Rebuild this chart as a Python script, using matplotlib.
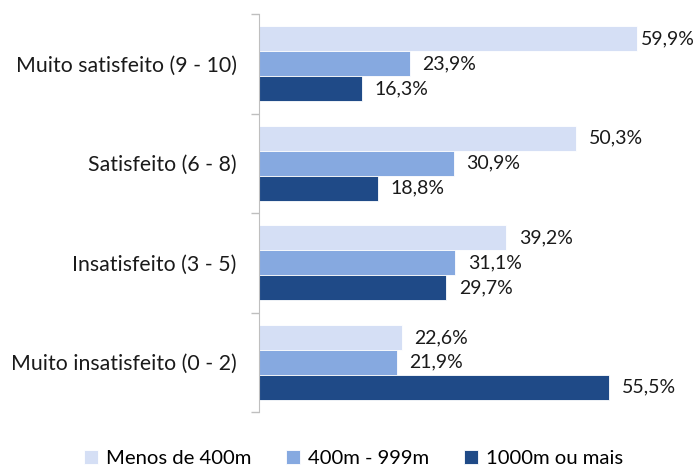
import numpy as np
import matplotlib.pyplot as plt

# Data
categories = ["Muito satisfeito (9 - 10)", "Satisfeito (6 - 8)",
              "Insatisfeito (3 - 5)", "Muito insatisfeito (0 - 2)"]
series_names = ["Menos de 400m", "400m - 999m", "1000m ou mais"]
menos_400 = [59.9, 50.3, 39.2, 22.6]
de_400_999 = [23.9, 30.9, 31.1, 21.9]
mais_1000 = [16.3, 18.8, 29.7, 55.5]
series = [menos_400, de_400_999, mais_1000]
colors = ["#D5DFF5", "#86A9E0", "#1F4A87"]

plt.rcParams["font.family"] = ["Lato", "DejaVu Sans"]

fig = plt.figure(figsize=(7, 4.67), dpi=100)
ax = fig.add_axes([259 / 700, 1 - 412 / 467, 391 / 700, 398 / 467])

bar_h = 0.25
y = np.arange(len(categories))
top = max(max(s) for s in series)
for i, (vals, name, c) in enumerate(zip(series, series_names, colors)):
    pos = y - 0.25 + i * bar_h
    bars = ax.barh(pos, vals, height=bar_h, color=c, label=name,
                   edgecolor="white", linewidth=0.6)
    for b, v in zip(bars, vals):
        off = 3 if v == top else 9  # keep the longest label inside the figure
        ax.annotate(f"{v:.1f}%".replace(".", ","),
                    (b.get_width(), b.get_y() + b.get_height() / 2),
                    xytext=(off, 0), textcoords="offset points",
                    va="center", ha="left", fontsize=14, color="#1a1a1a")

ax.set_xlim(0, 62)
ax.set_ylim(len(categories) - 0.5, -0.5)
ax.set_xticks([])
ax.set_yticks(y)
ax.set_yticklabels(categories, fontsize=15.3, color="#1a1a1a")
ax.tick_params(axis="y", length=0, pad=16)
# small boundary ticks
ax.set_yticks(np.arange(-0.5, len(categories)), minor=True)
ax.tick_params(axis="y", which="minor", length=6, color="#bfbfbf", width=1)

for s in ["top", "right", "bottom"]:
    ax.spines[s].set_visible(False)
ax.spines["left"].set_color("#bfbfbf")

fig.legend(loc="lower center", bbox_to_anchor=(0.505, -0.04), ncol=3,
           frameon=False, fontsize=14.6, handlelength=0.7, handleheight=0.7,
           handletextpad=0.4, columnspacing=1.7)

plt.savefig("out.png", dpi=100)
plt.close()
